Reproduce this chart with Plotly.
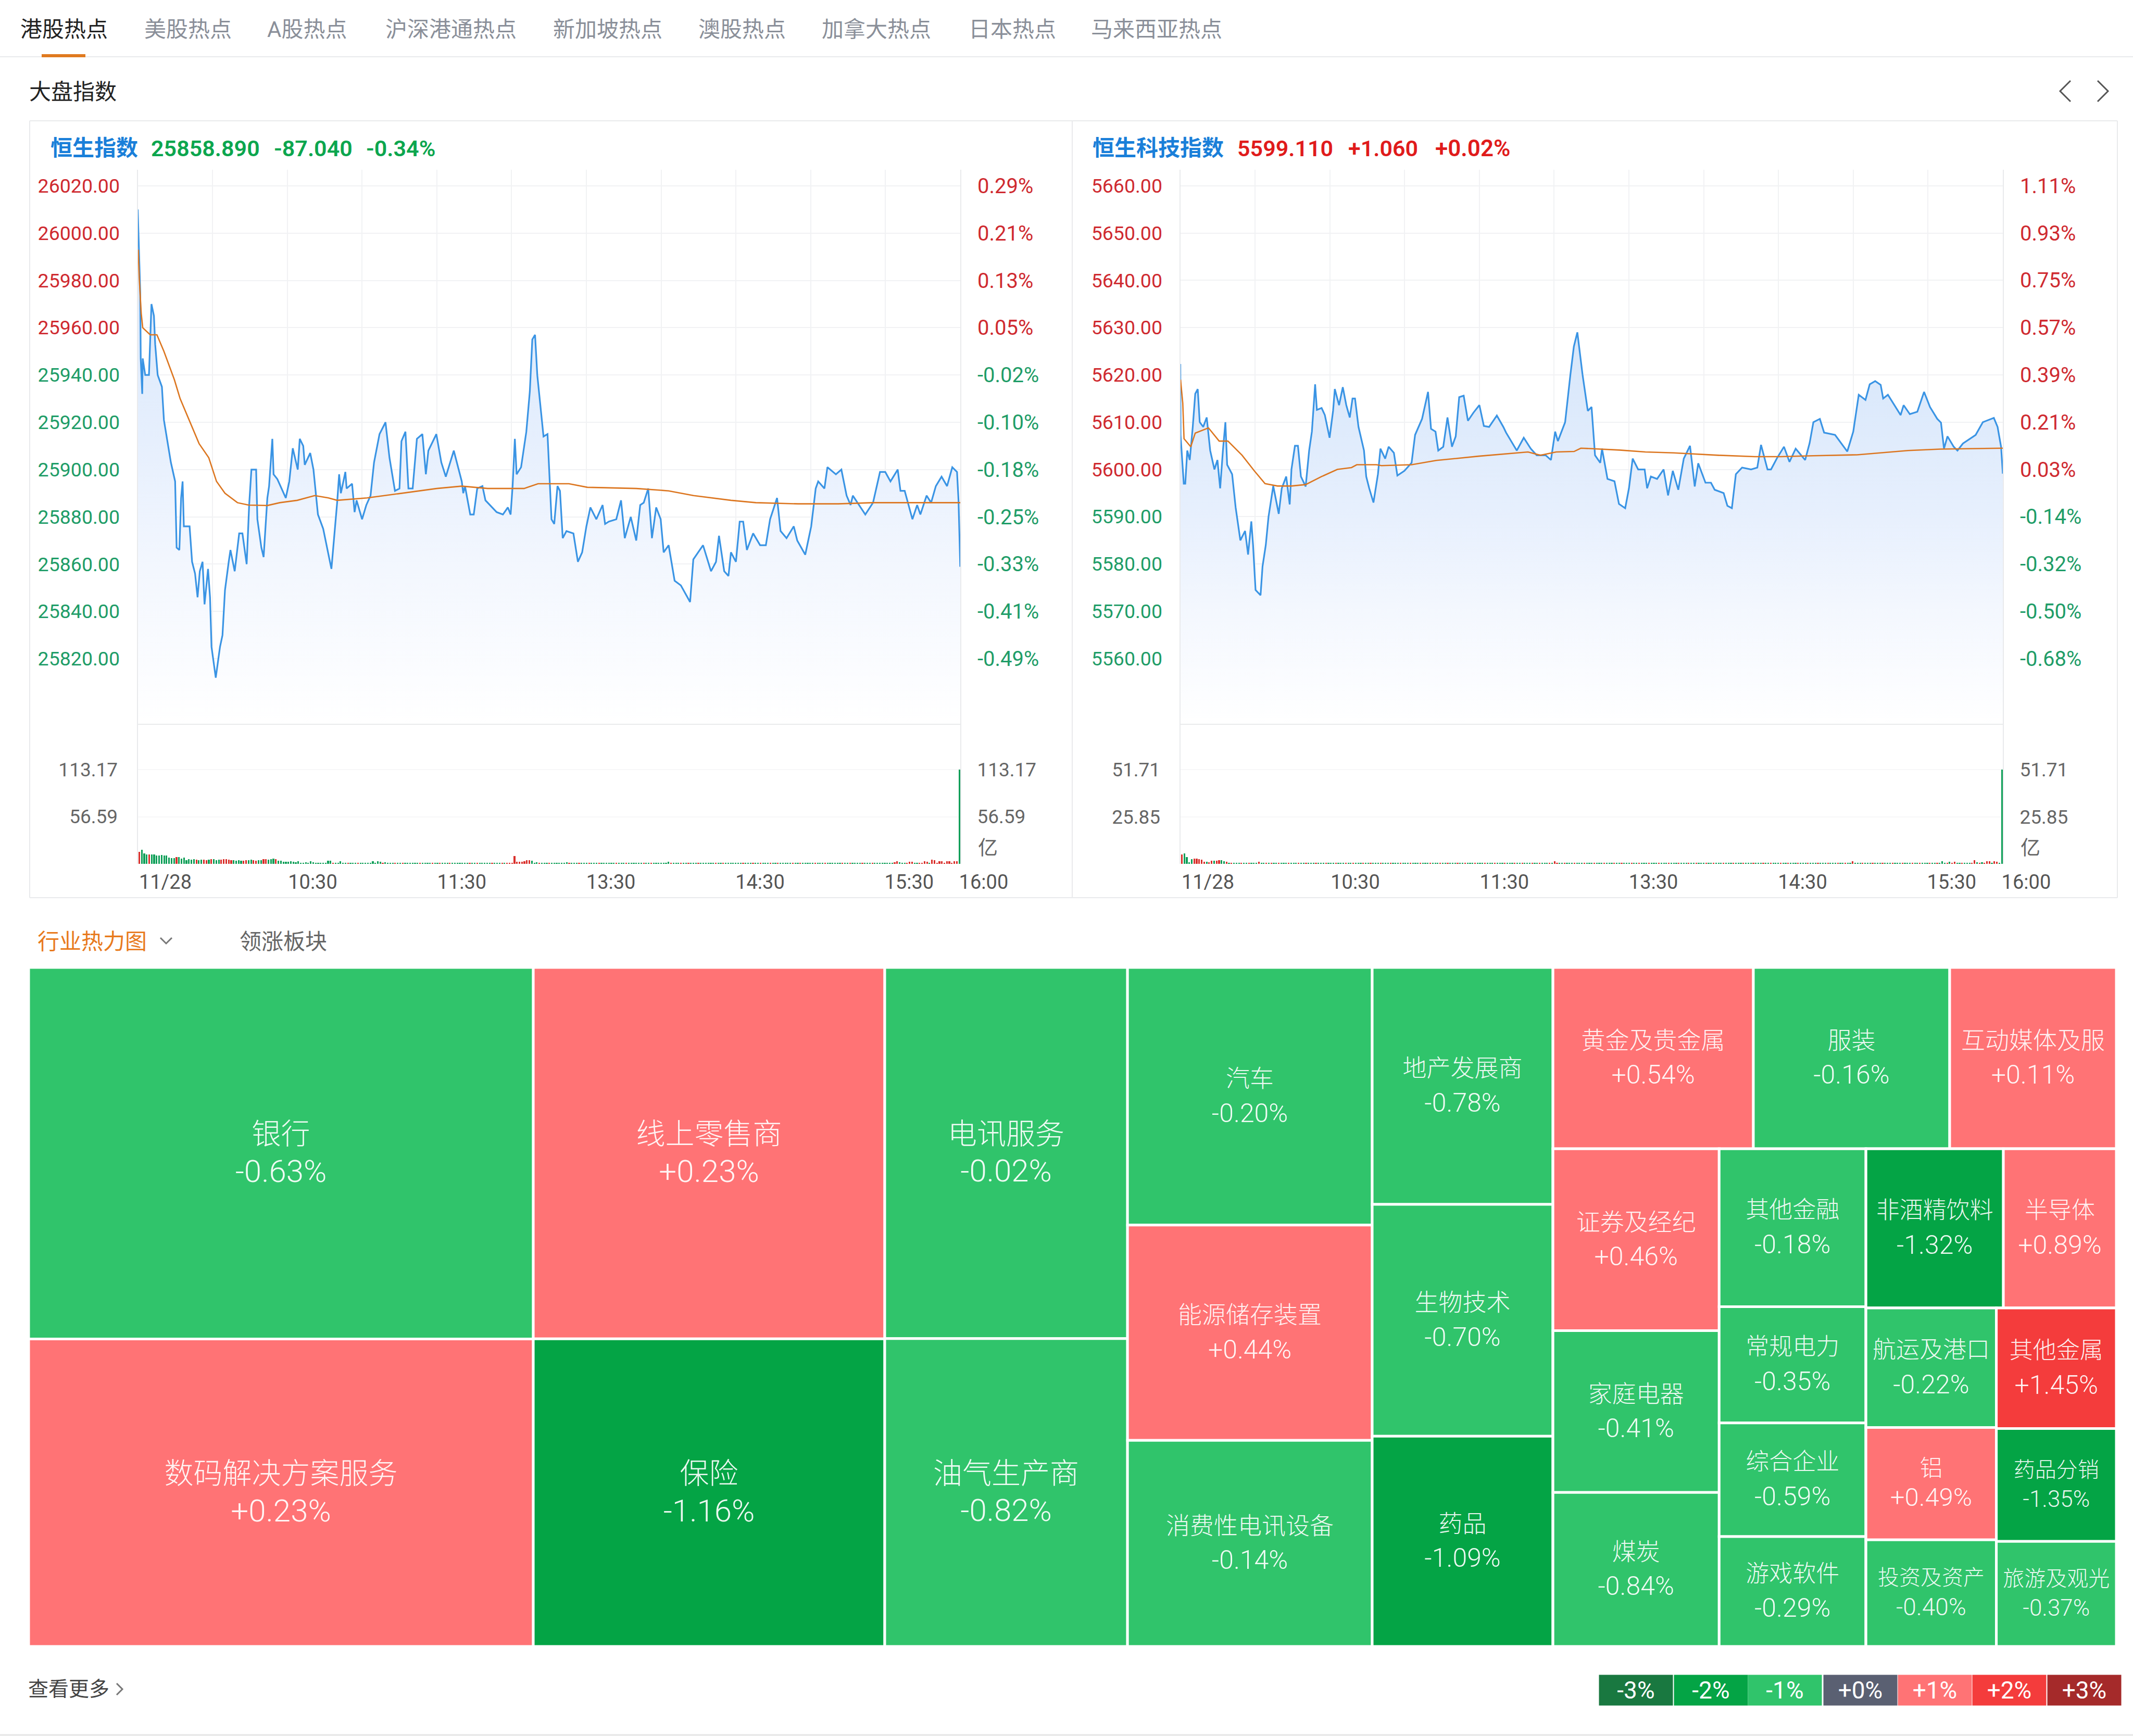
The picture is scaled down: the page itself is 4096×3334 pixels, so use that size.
import plotly.graph_objects as go

W = 4096
H = 3334
FONT = "Roboto, Noto Sans CJK SC"
RED = "#cf2a30"
GREEN = "#1f9d68"
GRID = "#f1f2f4"
EDGE = "#e9eaec"

tabs = ["港股热点", "美股热点", "A股热点", "沪深港通热点", "新加坡热点", "澳股热点", "加拿大热点", "日本热点", "马来西亚热点"]

# minutes since 9:30 with the lunch break removed
hsi_minutes = [0, 0.3, 1, 1.2, 1.8, 2, 3, 4.5, 5, 5.5, 6.5, 7, 8, 9.7, 10.5, 12, 13.3, 15, 15.6, 16.7, 17.4, 18, 18.5, 20.8,
               21.8, 23, 24, 24.9, 26, 26.8, 28.2, 29, 29.6, 31.3, 33, 34, 35, 36.5, 37.2, 38.9, 40.7, 42, 43.7, 44.7, 45.6,
               47.5, 48, 49.6, 50.5, 52, 52.7, 54, 54.5, 56, 59.4, 60.8, 62.2, 64.2, 65, 66.4, 67, 69.2, 70.5, 72.3, 74.4,
               77.7, 79, 80, 80.8, 81.5, 83.3, 83.8, 86, 87, 87.8, 90, 91.7, 93.4, 94.8, 97, 99.4, 101, 103.2, 105, 105.8,
               107.4, 108.6, 110.3, 112, 114.2, 115.6, 116.6, 119.8, 121.8, 123.6, 126.8, 130, 130.6, 131.3, 133.4, 134.8,
               136.2, 138.3, 139.5, 144, 146.5, 148.5, 149.6, 150.4, 151.3, 152, 153.8, 155.9, 157.3, 158.3, 159.4, 160.3,
               162, 162.8, 164.4, 165.3, 166, 167.1, 168.4, 169.4, 170.5, 172, 174.8, 176.6, 178.3, 180, 181.6, 184, 186.5,
               187.5, 189, 192, 193.9, 195.4, 197.8, 200, 201.6, 203, 204.8, 206.3, 208, 209.8, 211, 213, 215.4, 217.9,
               221.6, 222.9, 226.8, 230, 232, 233.2, 235.3, 237, 238, 240, 241.5, 242.9, 244.4, 246.9, 249.7, 252, 253.7,
               256.5, 257.9, 260.3, 263.2, 264.6, 267.8, 270.2, 272, 273, 275.5, 276.7, 280.1, 282.3, 284.4, 286, 286.9,
               291.9, 295, 297.8, 299.9, 302, 304.9, 306, 307.7, 310.8, 312.7, 314, 316.5, 318.3, 320.2, 322.5, 324.7,
               326.8, 328.7, 329.3, 330]
hsi_values = [26010, 25998, 25975, 25947, 25932, 25947, 25940, 25940, 25957, 25970, 25965, 25953, 25940, 25935, 25921, 25911,
              25903, 25895, 25867, 25866, 25888, 25895, 25876, 25876, 25861, 25856, 25846, 25857, 25861, 25843, 25858, 25846,
              25825, 25812, 25825, 25830, 25849, 25861, 25866, 25857, 25873, 25873, 25860, 25885, 25900, 25900, 25879, 25867,
              25863, 25888, 25893, 25913, 25898, 25896, 25888, 25895, 25909, 25900, 25913, 25910, 25902, 25907, 25900, 25881,
              25875, 25858, 25873, 25886, 25898, 25890, 25899, 25892, 25894, 25882, 25887, 25879, 25885, 25889, 25903, 25915,
              25920, 25905, 25891, 25892, 25912, 25916, 25892, 25892, 25913, 25915, 25898, 25908, 25915, 25903, 25897, 25908,
              25895, 25890, 25893, 25881, 25881, 25892, 25893, 25887, 25882, 25881, 25884, 25881, 25893, 25913, 25898, 25901,
              25916, 25933, 25955, 25957, 25940, 25923, 25914, 25915, 25893, 25879, 25877, 25893, 25891, 25871, 25874, 25873,
              25861, 25865, 25876, 25884, 25879, 25885, 25877, 25878, 25879, 25887, 25871, 25880, 25870, 25885, 25886, 25892,
              25871, 25884, 25879, 25865, 25868, 25853, 25851, 25844, 25862, 25868, 25857, 25861, 25872, 25857, 25855, 25865,
              25861, 25878, 25878, 25866, 25873, 25868, 25868, 25879, 25888, 25874, 25871, 25876, 25870, 25864, 25876, 25892,
              25895, 25892, 25901, 25898, 25900, 25889, 25885, 25889, 25881, 25886, 25899, 25899, 25895, 25900, 25891, 25891,
              25879, 25885, 25881, 25889, 25886, 25893, 25897, 25893, 25901, 25899, 25887, 25858.89]
hsi_avg_minutes = [0.2, 0.6, 1.4, 2, 5, 7.7, 10.5, 14.7, 17, 21, 24.6, 28.5, 31.6, 35, 40, 44.5, 52, 57, 64, 71, 76.5, 80, 92,
                   99, 106, 120, 130, 140.4, 155, 160.6, 173, 180.4, 200, 213, 223, 238, 248, 265, 281, 295, 330]
hsi_avg = [25993, 25981, 25966, 25960, 25957, 25957, 25950, 25938, 25930, 25920, 25911, 25905, 25895, 25890, 25886, 25885,
           25884.8, 25886, 25887, 25889, 25888, 25887, 25888, 25889, 25890, 25892, 25893, 25892, 25892, 25894, 25894, 25892.5,
           25892, 25891, 25889, 25887, 25886, 25885.5, 25885.5, 25886, 25886]
hsi_volume = [14.6, 16.6, 12.5, 11, 11.2, 11, 11.5, 10, 10.2, 10.5,
              10.2, 10, 7.4, 7, 6.8, 8.2, 8, 6.2, 7.6, 4.4,
              5.4, 5, 5.4, 5, 4.6, 5, 5, 4.6, 5.2, 5.5,
              5.4, 4.6, 5, 5.2, 5.4, 5.6, 4.8, 4.2, 4.4, 4,
              4.3, 4, 3.8, 4.2, 4.4, 5.2, 4.4, 3.9, 4.2, 4.1,
              5.4, 5.8, 5, 5.8, 6.2, 5.6, 3.8, 3.6, 2.4, 2.2,
              2.6, 3, 2.6, 1.8, 3.2, 1.4, 1.2, 1.6, 1.2, 3,
              1.6, 1.2, 1.2, 1.4, 1.2, 1.2, 3.6, 3.6, 1.2, 1.3,
              1.2, 2.9, 1.5, 1.2, 1.1, 1.2, 1.1, 1.2, 1.1, 1.2,
              1.2, 1.1, 1.2, 1.1, 2.9, 1.2, 3, 2.6, 1.3, 2.1,
              1.2, 1, 1.2, 1.1, 1.2, 1.1, 1, 1.2, 1.1, 1.2,
              1.1, 1.2, 1, 1.1, 1.2, 1.1, 1.2, 1, 1.1, 1.2,
              1.1, 1, 1.2, 1.1, 1.2, 1.1, 1, 1.2, 1.1, 1.1,
              1.2, 1.1, 1, 1.2, 1.1, 1.2, 1, 1.1, 1.2, 1.1,
              1.1, 1.2, 1.1, 1, 1.2, 1.1, 1.2, 1.3, 1.2, 1.4,
              1.5, 9.4, 2.5, 2.6, 2.5, 3, 4.2, 4.2, 3.8, 1.5,
              1.7, 1.4, 1.2, 1.1, 1.2, 1.1, 1.2, 1.1, 1, 1.2,
              1.1, 1.2, 1.6, 1.2, 1.1, 1, 1.2, 1.1, 1.2, 1.1,
              1, 1.2, 1.1, 1.1, 1.2, 1.1, 1, 1.2, 1.1, 1.2,
              1.1, 1, 1.2, 1.1, 1.2, 1.1, 1, 1.2, 1.1, 1.1,
              1.2, 1.1, 1, 1.2, 1.1, 1.2, 1, 1.1, 1.2, 1.1,
              1.1, 1.2, 1.3, 2.5, 1.3, 1.1, 1.2, 1, 1.1, 1.2,
              1.1, 1, 1.2, 1.1, 1.2, 1.1, 1, 1.2, 1.1, 1.1,
              1.2, 1.1, 1, 1.2, 1.1, 1.2, 1, 1.1, 1.2, 1.1,
              1.1, 1.2, 1.1, 1, 1.2, 1.1, 1.2, 1, 1.1, 1.2,
              1.1, 1, 1.2, 1.1, 1.2, 1.1, 1, 1.2, 1.1, 1.1,
              1.2, 1.1, 1, 1.2, 1.1, 1.2, 1, 1.1, 1.2, 1.1,
              1.1, 1.2, 1.1, 1, 1.2, 1.1, 1.2, 1, 1.1, 1.2,
              1.1, 1, 1.2, 1.1, 1.2, 1.1, 1, 1.2, 1.1, 1.1,
              1.2, 1.1, 1, 1.2, 1.1, 1.2, 1, 1.1, 1.2, 1.1,
              1.1, 1.2, 1.1, 1.3, 2, 3, 2, 1.1, 1.2, 1.1,
              2.5, 2.5, 1.2, 1.1, 1.2, 1.3, 3, 2.5, 1.1, 5.2,
              4.2, 1.2, 3, 3, 1.2, 3, 3, 1.2, 3, 3,
              113.17]
# r = up minute, g = down minute
hsi_direction = ("rgggrggggg" "gggggrgggg" "gggrggrrgr" "gggrrrrrgg" "ggrrggrrgg" "rrgggrgggg"
                 "gggggggggg" "ggggggggrg" "ggggrgggrg" "ggggggggrg" "gggrggrggg" "gggrggggrg"
                 "grgggrgggg" "gggrggrggg" "ggrgggrgrr" "rrrrrrrrgg" "grgggrgggg" "gggrgggrgg"
                 "grgggrgggg" "ggrgggrggg" "gggrggrggg" "ggggrgggrg" "grgggrgggg" "ggrggrgggg"
                 "gggrgggrgg" "rgggrggrgg" "gggrggrggg" "ggrgggrggg" "gggrggrggg" "grgggrgggg"
                 "ggggrrgggr" "rrggrrrrgr" "rrrrrrrrrr" "g")

hstech_minutes = [0, 0.1, 1.4, 2, 2.8, 3.8, 5, 6, 7, 7.8, 9.2, 10.6, 12, 13.7, 14.9, 16, 17.1, 18.1, 18.8, 20.8, 22.2, 24.1,
                  26, 27.2, 28.5, 29.2, 30.2, 32.2, 33, 34.3, 35.4, 37.3, 39.5, 40.7, 42.5, 43.9, 44.6, 46, 47.2, 48.4, 50.3,
                  51.7, 52.8, 54.1, 54.8, 56.7, 58, 59.9, 61.3, 62, 63.7, 65.2, 66.6, 68, 69.1, 70.1, 71.5, 73.7, 74.6, 75.8,
                  77.5, 79.3, 80.3, 82.2, 83.6, 85.7, 87.1, 89.9, 92.8, 94.2, 97, 99.4, 100.6, 102.4, 103.5, 105.5, 107.2, 109,
                  110.5, 111.9, 113.7, 115.4, 117.6, 120, 121.8, 123.9, 127, 129.6, 130.7, 135, 137.8, 140.6, 143, 146.6, 148.7,
                  150.4, 151.5, 154.4, 156.5, 157.9, 159.3, 161.4, 163.5, 165, 166.4, 168.5, 169.2, 171.4, 174.2, 176, 178.5,
                  180, 181.5, 183.7, 186.3, 187.3, 188.8, 191.3, 193.9, 195.7, 197.6, 199.8, 202, 204.5, 206.4, 207.8, 210.7,
                  212.9, 214.4, 218, 219.5, 221.3, 222.9, 225.4, 229, 231.5, 233, 235.6, 237, 239.3, 242.2, 244.4, 246.9, 250.7,
                  252.5, 254, 256.6, 258.3, 262.7, 267.6, 270, 272.2, 274.9, 276.6, 278.8, 281, 282, 283.9, 289, 290.2, 292.7,
                  295.7, 298.4, 300.8, 303.7, 305.2, 306.4, 307.8, 310.3, 311.8, 314, 319.1, 322, 326.4, 327.9, 329.3, 330]
hstech_values = [5622.3, 5607.3, 5597, 5597, 5604, 5602, 5609, 5616, 5617, 5610, 5609, 5611, 5604, 5600, 5602, 5596, 5604, 5610,
                 5601, 5599, 5592, 5585, 5587, 5582, 5589, 5584, 5574.5, 5573.4, 5579.5, 5584, 5590, 5596.5, 5590.6, 5596, 5598.5,
                 5592.6, 5600, 5605, 5605, 5598.5, 5596.4, 5604, 5608, 5618, 5612.6, 5613, 5611.5, 5606.7, 5612.4, 5617, 5613.6,
                 5617.4, 5613.6, 5611, 5615, 5615, 5609, 5604, 5598.5, 5596, 5593, 5599, 5604.4, 5602.3, 5604.8, 5603.5, 5598.7,
                 5599.7, 5601.4, 5607.3, 5610.7, 5616.4, 5608.6, 5608, 5604, 5604.8, 5611, 5604.8, 5607, 5615.3, 5615.6, 5610.3,
                 5612, 5613.6, 5609.2, 5609, 5611.4, 5609, 5607.8, 5604, 5606.7, 5604.4, 5603, 5603, 5602, 5608, 5606, 5610, 5620,
                 5626, 5629, 5620, 5612.4, 5613.2, 5603, 5601.4, 5604.4, 5598, 5597.5, 5592.7, 5591.8, 5596, 5602.3, 5600, 5600,
                 5596, 5598.5, 5598, 5600, 5594.5, 5599.7, 5595.7, 5602.3, 5605, 5596.4, 5601.3, 5597.2, 5597.2, 5595.7, 5595,
                 5592.3, 5591.8, 5599, 5600.4, 5600, 5600.4, 5605.2, 5600, 5600, 5602.3, 5604.8, 5601.6, 5604.4, 5602, 5605.6,
                 5610, 5610.7, 5607.8, 5607.3, 5603.8, 5608, 5615.8, 5614.7, 5618, 5618.7, 5617.9, 5615, 5615.8, 5611.5, 5613.6,
                 5611.7, 5612.2, 5616.4, 5613.2, 5610.7, 5609.9, 5604.4, 5607, 5604.8, 5604, 5605.5, 5607.3, 5610, 5610.9, 5609,
                 5604.8, 5599.11]
hstech_avg_minutes = [0.1, 1, 1.5, 4.2, 6, 11.3, 15.6, 19.1, 24.8, 29.7, 34, 39, 44.6, 50.3, 56.7, 63, 68.7, 70.8, 78.7, 80.7,
                      92.8, 102.7, 119.7, 139.5, 144.5, 150.8, 158, 160.7, 176.3, 186.6, 198, 216, 230.5, 240.8, 254, 271.5,
                      292, 305, 330]
hstech_avg = [5619, 5614, 5606.5, 5604.8, 5607.7, 5608.8, 5606, 5606, 5603, 5599.7, 5597, 5596.5, 5596.5, 5596.8, 5598.5, 5600,
              5600.4, 5601, 5601, 5600.8, 5601, 5601.9, 5602.8, 5603.7, 5603, 5603.7, 5603.8, 5604.5, 5604.1, 5603.7, 5603.5,
              5603, 5602.7, 5602.7, 5602.9, 5603.1, 5604, 5604.3, 5604.5]
hstech_volume = [5.2, 5.7, 3.8, 0.8, 2.6, 3, 2.8, 2.6, 2.4, 1.2,
                 1.2, 0.8, 1.6, 1.8, 1.6, 1.9, 2, 1.3, 1.2, 0.6,
                 0.5, 0.6, 0.5, 0.5, 0.6, 0.5, 0.6, 0.5, 0.5, 0.6,
                 0.5, 1.1, 0.6, 0.5, 0.6, 0.5, 0.5, 0.6, 0.5, 0.6,
                 0.5, 0.6, 0.5, 0.5, 0.6, 0.5, 0.5, 0.6, 0.5, 0.6,
                 0.5, 0.5, 0.6, 0.5, 0.6, 0.5, 0.5, 0.6, 0.5, 0.5,
                 0.6, 0.5, 0.6, 0.5, 0.5, 0.6, 0.5, 0.6, 0.5, 0.5,
                 0.6, 0.5, 0.5, 0.6, 0.5, 0.6, 0.5, 0.5, 0.6, 0.5,
                 0.6, 0.5, 0.5, 0.6, 0.5, 0.5, 0.6, 0.5, 0.6, 0.5,
                 0.5, 0.6, 0.5, 0.6, 0.5, 0.5, 0.6, 0.5, 0.5, 0.6,
                 0.5, 0.6, 0.5, 0.5, 0.6, 0.5, 0.6, 0.5, 0.5, 0.6,
                 0.5, 0.5, 0.6, 0.5, 0.6, 0.5, 0.5, 0.6, 0.5, 0.6,
                 0.5, 0.5, 0.6, 0.5, 0.5, 0.6, 0.5, 0.6, 0.5, 0.5,
                 0.6, 0.5, 0.6, 0.5, 0.5, 0.6, 0.5, 0.5, 0.6, 0.5,
                 0.6, 0.5, 0.5, 0.6, 0.5, 0.6, 0.5, 0.5, 0.6, 0.5,
                 1.4, 0.6, 0.5, 0.6, 0.5, 0.5, 0.6, 0.5, 0.6, 0.5,
                 0.5, 0.6, 0.5, 0.5, 0.6, 0.5, 0.6, 0.5, 0.5, 0.6,
                 0.5, 0.6, 0.5, 0.5, 0.6, 0.5, 0.5, 0.6, 0.5, 0.6,
                 0.5, 0.5, 0.6, 0.5, 0.6, 0.5, 0.5, 0.6, 0.5, 0.5,
                 0.6, 0.5, 0.6, 0.5, 0.5, 0.6, 0.5, 0.6, 0.5, 0.5,
                 0.6, 0.5, 0.5, 0.6, 0.5, 0.6, 0.5, 0.5, 0.6, 0.5,
                 0.6, 0.5, 0.5, 0.6, 0.5, 0.5, 0.6, 0.5, 0.6, 0.5,
                 0.5, 0.6, 0.5, 0.6, 0.5, 0.5, 0.6, 0.5, 0.5, 0.6,
                 0.5, 0.6, 0.5, 0.5, 0.6, 0.5, 0.6, 0.5, 0.5, 0.6,
                 0.5, 0.5, 0.6, 0.5, 0.6, 0.5, 0.5, 0.6, 0.5, 0.6,
                 0.5, 0.5, 0.6, 0.5, 0.5, 0.6, 0.5, 0.6, 0.5, 0.5,
                 0.6, 0.5, 0.6, 0.5, 0.5, 0.6, 0.5, 0.5, 0.6, 0.5,
                 1.3, 0.6, 0.5, 0.5, 0.6, 0.5, 0.6, 0.5, 0.5, 0.6,
                 0.5, 0.5, 0.6, 0.5, 0.6, 0.5, 0.5, 0.6, 0.5, 0.6,
                 0.5, 0.5, 0.6, 0.5, 0.5, 0.6, 0.5, 0.6, 0.5, 0.5,
                 0.6, 0.5, 0.6, 0.5, 0.5, 0.6, 1.4, 0.6, 0.6, 1.2,
                 0.6, 1.2, 0.6, 0.5, 0.6, 0.5, 0.6, 0.5, 0.6, 2.1,
                 0.8, 0.6, 1, 0.6, 1.3, 1.3, 0.6, 1.3, 1.2, 0.6,
                 51.71]
hstech_direction = ("rggggrrrrr" "grrgrrggrg" "rgggrggrgg" "grggrgrggr" "gggrgggrgg" "rgggrgggrg"
                    "ggrgggrggr" "gggrggrggg" "rgggrgggrg" "ggrgggrggg" "rgggrggrgg" "grggrgggrg"
                    "ggrgggrggg" "rgggrggrgg" "grggrgggrg" "rrggrgggrg" "ggrgggrggg" "rgggrggrgg"
                    "grggrgggrg" "ggrgggrggg" "rgggrggrgg" "grggrgggrg" "ggrgggrggg" "rgggrggrgg"
                    "grggrgggrg" "ggrgggrggg" "rgggrggrgg" "rgggrgggrg" "ggrgggrggg" "rgggrggrgg"
                    "grggrgggrg" "rrggrgggrr" "grgrrrgrrg" "g")

hsi_ticks = [26020, 26000, 25980, 25960, 25940, 25920, 25900, 25880, 25860, 25840, 25820]
hsi_tick_labels = ["26020.00", "26000.00", "25980.00", "25960.00", "25940.00", "25920.00", "25900.00", "25880.00", "25860.00", "25840.00", "25820.00"]
hsi_pct_labels = ["0.29%", "0.21%", "0.13%", "0.05%", "-0.02%", "-0.10%", "-0.18%", "-0.25%", "-0.33%", "-0.41%", "-0.49%"]
hstech_ticks = [5660, 5650, 5640, 5630, 5620, 5610, 5600, 5590, 5580, 5570, 5560]
hstech_tick_labels = ["5660.00", "5650.00", "5640.00", "5630.00", "5620.00", "5610.00", "5600.00", "5590.00", "5580.00", "5570.00", "5560.00"]
hstech_pct_labels = ["1.11%", "0.93%", "0.75%", "0.57%", "0.39%", "0.21%", "0.03%", "-0.14%", "-0.32%", "-0.50%", "-0.68%"]
time_ticks = [0, 30, 60, 90, 120, 150, 180, 210, 240, 270, 300, 330]
time_labels = ["11/28", "", "10:30", "", "11:30", "", "13:30", "", "14:30", "", "15:30", "16:00"]

# treemap tree: group id, parent id
group_ids = ["col_a", "col_b", "col_c", "col_d", "col_e", "col_right", "top_row", "bottom", "col_g", "col_h", "col_rest",
             "row_1", "row_2", "col_1", "col_2"]
group_parents = ["", "", "", "", "", "", "col_right", "col_right", "bottom", "bottom", "bottom",
                 "col_rest", "col_rest", "row_2", "row_2"]
sector_names = ["银行", "数码解决方案服务", "线上零售商", "保险", "电讯服务", "油气生产商", "汽车", "能源储存装置", "消费性电讯设备",
                "地产发展商", "生物技术", "药品", "黄金及贵金属", "服装", "互动媒体及服", "证券及经纪", "家庭电器", "煤炭",
                "其他金融", "常规电力", "综合企业", "游戏软件", "非酒精饮料", "半导体", "航运及港口", "铝", "投资及资产",
                "其他金属", "药品分销", "旅游及观光"]
sector_parents = ["col_a", "col_a", "col_b", "col_b", "col_c", "col_c", "col_d", "col_d", "col_d", "col_e", "col_e", "col_e",
                  "top_row", "top_row", "top_row", "col_g", "col_g", "col_g", "col_h", "col_h", "col_h", "col_h",
                  "row_1", "row_1", "col_1", "col_1", "col_1", "col_2", "col_2", "col_2"]
sector_changes = [-0.63, 0.23, 0.23, -1.16, -0.02, -0.82, -0.20, 0.44, -0.14, -0.78, -0.70, -1.09, 0.54, -0.16, 0.11, 0.46,
                  -0.41, -0.84, -0.18, -0.35, -0.59, -0.29, -1.32, 0.89, -0.22, 0.49, -0.40, 1.45, -1.35, -0.37]
sector_sizes = [1011, 837, 704, 583, 486, 403, 340, 284, 272, 231, 226, 205, 196, 192, 163, 163, 145, 138, 125, 92, 90, 87,
                118, 97, 84, 79, 75, 78, 73, 68]
# base size sets the line spacing, names and percents are sized inside it
sector_base = [56, 56, 56, 56, 56, 56, 52, 52, 52, 52, 52, 52, 52, 52, 52, 52, 52, 52, 52, 52, 52, 52, 52, 52, 52, 44, 44, 52, 44, 44]
sector_name_size = [56, 56, 56, 56, 56, 56, 46, 46, 46, 46, 46, 46, 46, 46, 46, 46, 46, 46, 45, 45, 45, 45, 45, 45, 45, 44, 41, 45, 41, 41]
sector_pct_size = [60, 60, 60, 60, 60, 60, 50, 50, 50, 50, 50, 50, 50, 50, 50, 50, 50, 50, 50, 50, 50, 50, 50, 50, 50, 49, 46, 50, 44, 44]

legend_labels = ["-3%", "-2%", "-1%", "+0%", "+1%", "+2%", "+3%"]
legend_colors = ["#197840", "#04a445", "#30c46b", "#5a6072", "#ff7375", "#f43c3c", "#a52a2a"]


def px(x):
    return x / W


def py(y):
    return 1 - y / H


def sector_color(change):
    if change <= -1:
        return legend_colors[1]
    if change < 0:
        return legend_colors[2]
    if change >= 1:
        return legend_colors[5]
    return legend_colors[4]


def colored(labels, ticks, split):
    return [f'<span style="color:{RED if t >= split else GREEN}">{s}</span>' for s, t in zip(labels, ticks)]


def text(x, y, s, size=42, color="#333", anchor="left", weight=None):
    return dict(x=px(x), y=py(y), xref="paper", yref="paper", text=s, showarrow=False, xanchor=anchor, yanchor="middle",
                font=dict(family=FONT, size=size, color=color, weight=weight))


fig = go.Figure()
annotations = []
shapes = []


def add_index(n, left, right, minutes, values, avg_minutes, avg, volume, direction, ticks, tick_labels, pct_labels, split,
              price_range, vol_range, vol_ticks, vol_labels):
    # four axes per panel: price, percent, volume, volume mirror
    x_price, x_vol = n * 2 + 1, n * 2 + 2
    y_price, y_pct, y_vol, y_vol2 = n * 4 + 1, n * 4 + 2, n * 4 + 3, n * 4 + 4
    name = lambda a, i: f"{a}{i}" if i > 1 else a
    fig.add_trace(go.Scatter(x=minutes, y=values, mode="lines", line=dict(color="#3a94e4", width=3.2), fill="tozeroy",
                             fillgradient=dict(type="vertical", start=price_range[0], stop=max(values),
                                               colorscale=[[0, "#ffffff"], [0.3, "#f3f7fe"], [0.55, "#e6effd"], [1, "#d6e6fa"]]),
                             xaxis=name("x", x_price), yaxis=name("y", y_price), showlegend=False))
    fig.add_trace(go.Scatter(x=avg_minutes, y=avg, mode="lines", line=dict(color="#dc7620", width=2.6),
                             xaxis=name("x", x_price), yaxis=name("y", y_pct), showlegend=False))
    fig.add_trace(go.Bar(x=list(range(len(volume))), y=volume, width=0.66, cliponaxis=False,
                         marker=dict(color=["#d9302c" if d == "r" else "#0e9f58" for d in direction], line_width=0),
                         xaxis=name("x", x_vol), yaxis=name("y", y_vol), showlegend=False))
    fig.add_trace(go.Scatter(x=[0], y=[volume[0]], mode="markers", marker=dict(opacity=0),
                             xaxis=name("x", x_vol), yaxis=name("y", y_vol2), showlegend=False))

    domain = [px(left), px(right)]
    price_dom = [py(1390), py(326)]
    vol_dom = [py(1659), py(1390)]
    grey = dict(family=FONT, size=37, color="#666")
    base = dict(domain=domain, tickmode="array", tickvals=time_ticks, ticks="", zeroline=False, automargin=False)
    y_base = dict(tickmode="array", ticks="", zeroline=False, automargin=False, showline=True, linecolor=EDGE, linewidth=2)
    fig.update_layout({
        name("xaxis", x_price): dict(base, range=[0, 330], anchor=name("y", y_price), showticklabels=False, showgrid=True,
                                     gridcolor=GRID, gridwidth=2, showline=True, linecolor=EDGE, linewidth=2),
        name("xaxis", x_vol): dict(base, range=[-0.5, 330.5], anchor=name("y", y_vol), ticktext=time_labels, showgrid=False,
                                   ticklabelposition="outside right", tickfont=dict(family=FONT, size=38, color="#555"),
                                   showline=False, ticklabelstandoff=9),
        name("yaxis", y_price): dict(y_base, domain=price_dom, range=price_range, anchor=name("x", x_price),
                                     tickvals=ticks, ticktext=colored(tick_labels, ticks, split),
                                     tickfont=dict(family=FONT, size=37.5), showgrid=True, gridcolor=GRID, gridwidth=2,
                                     ticklabelstandoff=25),
        name("yaxis", y_pct): dict(y_base, domain=price_dom, range=price_range, anchor=name("x", x_price),
                                   overlaying=name("y", y_price), side="right", tickvals=ticks,
                                   ticktext=colored(pct_labels, ticks, split), tickfont=dict(family=FONT, size=40),
                                   showgrid=False, ticklabelstandoff=23),
        name("yaxis", y_vol): dict(y_base, domain=vol_dom, range=vol_range, anchor=name("x", x_vol),
                                   tickvals=vol_ticks, ticktext=vol_labels, tickfont=grey, showgrid=True, gridcolor="#f7f7f8",
                                   gridwidth=2, ticklabelstandoff=29),
        name("yaxis", y_vol2): dict(y_base, domain=vol_dom, range=vol_range, anchor=name("x", x_vol),
                                    overlaying=name("y", y_vol), side="right", tickvals=vol_ticks, ticktext=vol_labels,
                                    tickfont=grey, showgrid=False, ticklabelstandoff=23),
    })
    annotations.append(text(right + 32, 1628, "亿", size=38, color="#666"))


add_index(0, 264.5, 1844, hsi_minutes, hsi_values, hsi_avg_minutes, hsi_avg, hsi_volume, hsi_direction, hsi_ticks,
          hsi_tick_labels, hsi_pct_labels, 25950, [25792.5, 26026.8], [0, 168.2], [56.59, 113.17], ["56.59", "113.17"])
add_index(1, 2266.5, 3846, hstech_minutes, hstech_values, hstech_avg_minutes, hstech_avg, hstech_volume, hstech_direction,
          hstech_ticks, hstech_tick_labels, hstech_pct_labels, 5595, [5546.2, 5663.4], [0, 76.9], [25.85, 51.71], ["25.85", "51.71"])

leaf_ids = [f"s{i}" for i in range(len(sector_names))]
leaf_text = [f'<span style="font-size:{a}px">{n}</span><br><span style="font-size:{b}px">{c:+.2f}%</span>'
             for n, c, a, b in zip(sector_names, sector_changes, sector_name_size, sector_pct_size)]
fig.add_trace(go.Treemap(
    ids=group_ids + leaf_ids,
    labels=group_ids + sector_names,
    parents=group_parents + sector_parents,
    values=[0] * len(group_ids) + sector_sizes,
    branchvalues="remainder",
    sort=False,
    textinfo="text",
    text=[""] * len(group_ids) + leaf_text,
    textposition="middle center",
    textfont=dict(family=FONT, color="rgba(255,255,255,0.92)", size=[20] * len(group_ids) + sector_base, weight=300),
    marker=dict(colors=["#ffffff"] * len(group_ids) + [sector_color(c) for c in sector_changes],
                line=dict(color="#ffffff", width=5), pad=dict(t=0, l=0, r=0, b=0), depthfade=False),
    tiling=dict(packing="slice-dice", pad=0),
    pathbar=dict(visible=False),
    root=dict(color="#ffffff"),
    domain=dict(x=[px(55), px(4064)], y=[py(3162), py(1858)]),
    hoverinfo="skip",
))

# page furniture around the charts
tab_x = [37, 275, 511, 738, 1060, 1339, 1576, 1858, 2093]
for i, (tab, x) in enumerate(zip(tabs, tab_x)):
    annotations.append(text(x, 57, tab, size=42, color="#222" if i == 0 else "#8a8f99"))
annotations.append(text(54, 177, "大盘指数", size=42, color="#222"))
annotations.append(text(95, 285, "恒生指数", size=42, color="#1a7fd9", weight=600))
annotations.append(text(288, 285, "25858.890", size=43, color="#0ca64e", weight=600))
annotations.append(text(524, 285, "-87.040", size=43, color="#0ca64e", weight=600))
annotations.append(text(701, 285, "-0.34%", size=43, color="#0ca64e", weight=600))
annotations.append(text(2096, 285, "恒生科技指数", size=42, color="#1a7fd9", weight=600))
annotations.append(text(2374, 285, "5599.110", size=43, color="#e01b1b", weight=600))
annotations.append(text(2587, 285, "+1.060", size=43, color="#e01b1b", weight=600))
annotations.append(text(2754, 285, "+0.02%", size=44, color="#e01b1b", weight=600))
annotations.append(text(70, 1808, "行业热力图", size=42, color="#e87a1d"))
annotations.append(text(458, 1808, "领涨板块", size=42, color="#666"))
annotations.append(text(52, 3244, "查看更多", size=39, color="#444"))

legend_x = [3071.6, 3215, 3357.7, 3502, 3645, 3788, 3932]
for x, label, color in zip(legend_x, legend_labels, legend_colors):
    annotations.append(dict(x=px(x + 70), y=py(3246), xref="paper", yref="paper", text=label, showarrow=False, width=139, height=56,
                            bgcolor=color, font=dict(family=FONT, size=46, color="#fff"), xanchor="center", yanchor="middle"))


def hline(y, x0, x1, color=EDGE, width=2):
    shapes.append(dict(type="line", xref="paper", yref="paper", x0=px(x0), x1=px(x1), y0=py(y), y1=py(y),
                       line=dict(color=color, width=width)))


def vline(x, y0, y1, color=EDGE, width=2):
    shapes.append(dict(type="line", xref="paper", yref="paper", x0=px(x), x1=px(x), y0=py(y0), y1=py(y1),
                       line=dict(color=color, width=width)))


def chevron(points, color="#555", width=3):
    path = "M " + " L ".join(f"{px(x)},{py(y)}" for x, y in points)
    shapes.append(dict(type="path", xref="paper", yref="paper", path=path, line=dict(color=color, width=width)))


hline(109, 0, W)
hline(107, 80, 164, color="#e07a1f", width=6)
hline(232, 57, 4066)
hline(1724, 57, 4066)
vline(57, 232, 1724)
vline(2059, 232, 1724)
vline(4066, 232, 1724)
hline(3332, 0, W, color="#e6e6e6", width=3)
chevron([(3976, 155), (3956, 175), (3976, 195)])
chevron([(4028, 155), (4048, 175), (4028, 195)])
chevron([(308, 1801), (319, 1812), (330, 1801)], color="#777")
chevron([(224, 3233), (235, 3244), (224, 3255)], color="#777")

fig.update_layout(width=W, height=H, margin=dict(l=0, r=0, t=0, b=0), paper_bgcolor="#ffffff", plot_bgcolor="rgba(0,0,0,0)",
                  showlegend=False, annotations=annotations, shapes=shapes, bargap=0)

fig.write_html("out.html", config=dict(displayModeBar=False),
               post_script="document.body.style.margin='0';document.body.style.overflow='hidden';")
